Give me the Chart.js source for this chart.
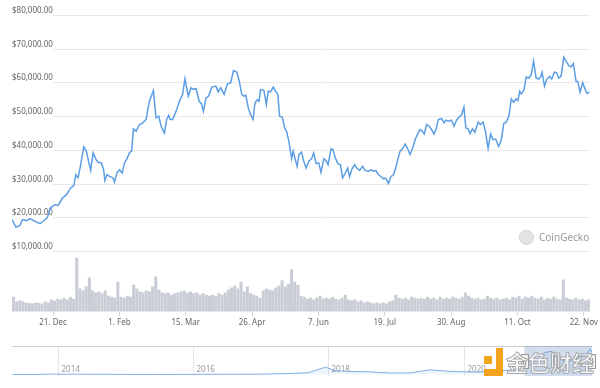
<!DOCTYPE html>
<html>
<head>
<meta charset="utf-8">
<script src="https://cdn.jsdelivr.net/npm/chart.js@4.4.0/dist/chart.umd.min.js"></script>
<style>
  html, body { margin: 0; padding: 0; background: #fff; }
  #wrap { position: relative; width: 600px; height: 388px; overflow: hidden; font-family: "Noto Sans", Arial, sans-serif; }
  #main { position: absolute; left: 0; top: 0; }
  #nav { position: absolute; left: 0; top: 340px; }
  .gecko { position: absolute; left: 518px; top: 229px; width: 80px; height: 16px; }
  .gecko i { position: absolute; left: 1px; top: 1px; width: 13px; height: 13px; border-radius: 50%; background: #e4e4e4; border: 1px solid #d0d0d0; }
  .gecko span { position: absolute; left: 21px; top: 0; font-size: 10px; line-height: 16px; color: #9a9a9a; }
  .wm { position: absolute; left: 482px; top: 344px; width: 118px; height: 36px; }
  .wm b { position: absolute; background: #f2a31b; }
  .wm span { position: absolute; left: 24px; top: 1px; font-family: "Noto Sans CJK SC", sans-serif; font-weight: 700; font-size: 22px; line-height: 32px;
             color: rgba(255,255,255,0.75); -webkit-text-stroke: 1px #a8a8a8; letter-spacing: 0px; }
</style>
</head>
<body>
<div id="wrap">
  <canvas id="main" width="600" height="340"></canvas>
  <canvas id="nav" width="600" height="48"></canvas>
  <div class="gecko"><i></i><span>CoinGecko</span></div>
  <div class="wm">
    <b style="left:2px;top:12px;width:8px;height:8px"></b>
    <b style="left:14px;top:4px;width:7px;height:28px"></b>
    <b style="left:2px;top:25px;width:19px;height:7px"></b>
    <span>金色财经</span>
  </div>
</div>
<script>
// days counted from 25 Nov 2020, price in thousand USD
var priceDays = [0,2.5,5.0,6.7,9.3,11.3,14.5,17.7,19.7,22.3,24.4,27.1,29.2,32.0,34.5,37.2,39.1,40.4,41.8,43.3,45.4,47.1,48.7,49.8,51.3,53.0,54.4,56.6,58.0,58.8,60.1,61.8,63.9,64.9,66.4,68.1,69.8,71.2,72.7,74.4,75.7,76.9,78.6,80.7,82.8,84.9,86.0,87.0,89.5,91.2,92.9,94.4,96.5,97.9,99.2,100.1,101.7,103.8,106.4,108.0,109.5,111.6,113.3,114.8,116.5,118.5,120.0,121.2,122.8,124.4,126.5,129.1,130.5,132.2,134.3,136.4,138.5,140.2,142.3,143.8,145.5,146.9,148.0,149.6,151.1,152.6,153.8,155.3,156.4,157.4,159.5,161.0,162.2,163.7,165.4,166.9,168.3,169.4,171.1,172.6,173.8,175.3,177.0,178.0,179.5,180.5,181.6,183.3,184.7,186.2,187.9,189.6,191.0,192.5,194.2,195.6,197.4,198.8,200.1,202.0,203.2,204.7,206.4,207.9,209.3,211.0,212.5,213.7,215.2,216.9,218.3,220.1,221.9,223.6,225.7,227.4,228.9,230.3,232.0,233.7,235.2,236.6,238.3,239.8,241.5,242.9,244.2,245.7,247.2,248.9,250.5,252.0,253.7,255.2,256.6,258.3,259.8,261.0,262.5,264.2,265.6,267.2,268.4,269.9,272.0,273.5,274.7,276.2,278.3,279.8,281.4,283.1,284.6,286.1,287.3,288.8,290.0,291.5,293.0,295.1,296.5,298.2,299.7,301.4,303.0,304.5,306.2,308.1,309.8,311.3,312.9,314.6,316.1,317.6,319.2,320.3,321.4,322.4,324.1,325.5,327.2,328.7,330.2,331.8,333.4,334.6,335.6,337.1,338.6,340.3,341.7,343.4,344.9,346.1,347.6,349.3,350.8,352.4,353.9,355.4,357.1,358.1,359.6,361.3,362.7,364.0,365.5];
var priceK = [19.3,17.1,17.5,19.3,19.0,19.6,18.8,18.1,18.8,19.8,22.8,23.7,23.5,25.7,26.7,28.7,29.4,32.6,31.7,35.1,40.9,39.6,36.1,33.9,39.1,37.3,36.3,36.1,34.1,30.9,32.6,32.1,31.7,30.4,33.1,34.1,33.1,36.1,37.3,39.1,39.6,46.2,45.5,47.5,48.0,49.0,52.0,54.4,57.6,49.5,50.0,47.0,45.0,49.0,50.2,49.0,49.0,51.4,54.9,56.4,61.1,55.9,58.4,57.9,58.2,54.4,53.6,51.4,55.4,55.9,58.6,58.9,57.2,58.4,56.4,59.6,59.9,63.5,63.1,60.5,56.4,55.9,56.2,52.4,50.4,49.0,53.9,54.9,54.4,57.9,57.6,53.4,57.4,57.2,58.6,57.4,56.4,50.0,49.7,46.5,45.5,42.5,37.4,39.6,36.8,35.1,38.6,39.3,36.6,34.6,36.6,37.3,39.1,35.9,36.1,33.3,37.3,36.8,35.6,40.3,40.1,37.6,35.8,35.6,31.7,33.1,34.6,32.0,34.3,35.6,34.6,33.9,35.1,33.9,33.6,34.1,33.6,33.9,32.6,32.0,31.4,31.6,30.0,32.0,32.6,34.6,37.1,39.6,40.3,41.7,40.3,38.6,40.6,43.0,44.5,46.0,45.5,44.7,47.5,47.0,46.0,44.7,46.0,49.0,49.3,48.0,48.8,48.5,48.8,47.0,48.8,49.7,50.4,52.7,46.5,46.2,44.8,46.2,45.2,48.2,47.5,48.2,45.5,40.4,44.7,43.0,43.2,41.0,43.0,47.8,48.2,50.0,55.1,54.1,55.1,54.6,57.4,56.6,57.7,61.6,61.3,62.3,66.3,61.3,61.0,61.6,63.0,58.9,61.0,61.8,61.0,63.1,62.8,61.3,61.8,67.5,66.3,65.0,64.6,65.6,60.3,60.3,57.1,59.9,58.1,56.7,57.1];

// 24h volume in billion USD, one bar every second day starting at day 1
var volStart = 1, volStep = 2;
var volumeB = [29,19,21,19,17,16,15,17,16,15,19,17,23,21,25,23,27,23,29,25,110,46,42,50,69,42,38,40,36,42,31,29,27,60,29,27,31,29,54,46,40,38,42,40,50,71,44,38,36,38,33,36,38,40,42,38,40,36,38,33,36,33,31,33,31,36,33,38,44,48,52,46,60,40,50,36,33,31,27,42,46,44,42,48,52,63,50,56,86,60,54,31,29,25,27,23,27,31,25,27,25,29,25,23,27,33,23,21,23,19,21,17,19,17,15,17,15,17,15,19,21,33,27,25,27,23,29,27,25,27,25,29,25,27,23,29,25,27,25,29,27,25,29,38,31,27,25,27,23,25,31,27,25,27,23,25,27,23,29,27,31,25,29,27,31,27,25,29,23,27,25,29,25,23,65,27,25,23,27,23,25,21,23];

var priceTicks = [10000, 20000, 30000, 40000, 50000, 60000, 70000, 80000];
var dateTickDays = [26, 68, 110, 152, 194, 236, 278, 320, 362];
var dateTickLabels = ['21. Dec', '1. Feb', '15. Mar', '26. Apr', '7. Jun', '19. Jul', '30. Aug', '11. Oct', '22. Nov'];

// navigator: full history (decimal year, price in thousand USD)
var navYears = [2013.33,2013.7,2013.92,2014.1,2014.5,2015.0,2015.5,2016.0,2016.5,2017.0,2017.4,2017.7,2017.96,2018.1,2018.3,2018.6,2018.9,2019.2,2019.5,2019.8,2020.2,2020.5,2020.8,2020.9,2021.0,2021.1,2021.2,2021.3,2021.4,2021.45,2021.55,2021.7,2021.8,2021.85,2021.87,2021.9];
var navPriceK = [0.13,0.1,1.1,0.8,0.6,0.3,0.25,0.43,0.65,1.0,2.5,4.5,19,10,8,7,4,4,12,8,6,9.5,13,18,29,40,57,60,50,37,32,47,48,62,66,57];
var navYearTicks = [2014, 2016, 2018, 2020];
var navSelection = [2020.9, 2021.9];

var FONT = '"Noto Sans", Arial, sans-serif';

function money(v) {
  return '$' + v.toLocaleString('en-US', { minimumFractionDigits: 2, maximumFractionDigits: 2 });
}

/* grid lines start right of the inside labels, labels sit just above their line */
var priceGrid = {
  id: 'priceGrid',
  beforeDatasetsDraw: function (chart) {
    var ctx = chart.ctx, a = chart.chartArea, y = chart.scales.y;
    ctx.save();
    ctx.font = '8px ' + FONT;
    ctx.textBaseline = 'bottom';
    ctx.textAlign = 'left';
    priceTicks.forEach(function (v) {
      var py = Math.round(y.getPixelForValue(v)) + 0.5;
      ctx.strokeStyle = '#e9e9e9';
      ctx.lineWidth = 1;
      ctx.beginPath();
      ctx.moveTo(a.left + 41, py);
      ctx.lineTo(a.right, py);
      ctx.stroke();
      ctx.fillStyle = '#666';
      ctx.fillText(money(v), a.left, py - 1);
    });
    ctx.restore();
  }
};

new Chart(document.getElementById('main'), {
  data: {
    datasets: [{
      type: 'line',
      data: priceDays.map(function (d, i) { return { x: d, y: priceK[i] * 1000 }; }),
      borderColor: '#5c9ee4',
      borderWidth: 1.5,
      pointRadius: 0,
      tension: 0,
      yAxisID: 'y'
    }, {
      type: 'bar',
      data: volumeB.map(function (v, i) { return { x: volStart + i * volStep, y: v * 1e9 }; }),
      backgroundColor: '#c9cdd5',
      barThickness: 2.4,
      grouped: false,
      yAxisID: 'yv'
    }]
  },
  options: {
    responsive: false,
    animation: false,
    layout: { padding: { left: 12, right: 7.5, top: 15, bottom: 0 } },
    plugins: { legend: { display: false }, tooltip: { enabled: false } },
    scales: {
      x: {
        type: 'linear', min: 0, max: 366, offset: false,
        afterBuildTicks: function (s) { s.ticks = dateTickDays.map(function (d) { return { value: d }; }); },
        afterFit: function (s) { s.height = 29; },
        grid: { offset: false, drawOnChartArea: false, drawTicks: true, tickLength: 5, color: '#ccd6eb' },
        border: { display: true, color: '#e6e6e6' },
        ticks: {
          autoSkip: false, maxRotation: 0, padding: 2, color: '#666',
          font: { family: FONT, size: 8 },
          callback: function (v, i) { return dateTickLabels[i]; }
        }
      },
      y: { display: false, min: -7830, max: 80000 },
      yv: { display: false, min: 0, max: 615e9 }
    }
  },
  plugins: [priceGrid]
});

var navDecor = {
  id: 'navDecor',
  beforeDatasetsDraw: function (chart) {
    var ctx = chart.ctx, a = chart.chartArea, x = chart.scales.x;
    ctx.save();
    ctx.lineWidth = 1;
    ctx.strokeStyle = '#e6e6e6';
    ctx.fillStyle = '#999';
    ctx.font = '8px ' + FONT;
    ctx.textBaseline = 'bottom';
    navYearTicks.forEach(function (yr) {
      var px = Math.round(x.getPixelForValue(yr)) + 0.5;
      ctx.beginPath();
      ctx.moveTo(px, a.top);
      ctx.lineTo(px, a.bottom);
      ctx.stroke();
      ctx.fillText(String(yr), px + 3, a.bottom - 2);
    });
    ctx.strokeStyle = '#cccccc';
    ctx.beginPath();
    ctx.moveTo(a.left, a.top + 0.5);
    ctx.lineTo(a.right, a.top + 0.5);
    ctx.stroke();
    ctx.restore();
  },
  afterDatasetsDraw: function (chart) {
    var ctx = chart.ctx, a = chart.chartArea, x = chart.scales.x;
    var x0 = x.getPixelForValue(navSelection[0]), x1 = x.getPixelForValue(navSelection[1]);
    ctx.save();
    ctx.fillStyle = 'rgba(102,133,194,0.28)';
    ctx.fillRect(x0, a.top, x1 - x0, a.bottom - a.top);
    [x0, x1 - 1].forEach(function (hx) {
      var hy = (a.top + a.bottom) / 2 - 7;
      ctx.fillStyle = '#f2f2f2';
      ctx.strokeStyle = '#999';
      ctx.lineWidth = 1;
      ctx.fillRect(Math.round(hx - 3) + 0.5, hy + 0.5, 7, 14);
      ctx.strokeRect(Math.round(hx - 3) + 0.5, hy + 0.5, 7, 14);
      ctx.beginPath();
      ctx.moveTo(Math.round(hx - 1) + 0.5, hy + 4); ctx.lineTo(Math.round(hx - 1) + 0.5, hy + 11);
      ctx.moveTo(Math.round(hx + 1) + 0.5, hy + 4); ctx.lineTo(Math.round(hx + 1) + 0.5, hy + 11);
      ctx.stroke();
    });
    ctx.restore();
  }
};

new Chart(document.getElementById('nav'), {
  type: 'line',
  data: {
    datasets: [{
      data: navYears.map(function (t, i) { return { x: t, y: navPriceK[i] * 1000 }; }),
      borderColor: '#7fb0e3',
      borderWidth: 1,
      pointRadius: 0,
      tension: 0,
      fill: 'origin',
      backgroundColor: 'rgba(92,158,228,0.10)'
    }]
  },
  options: {
    responsive: false,
    animation: false,
    layout: { padding: { left: 12, right: 8, top: 6, bottom: 12 } },
    plugins: { legend: { display: false }, tooltip: { enabled: false } },
    scales: {
      x: { type: 'linear', display: false, min: 2013.32, max: 2021.9 },
      y: { display: false, min: -3900, max: 73800 }
    }
  },
  plugins: [navDecor]
});
</script>
</body>
</html>
